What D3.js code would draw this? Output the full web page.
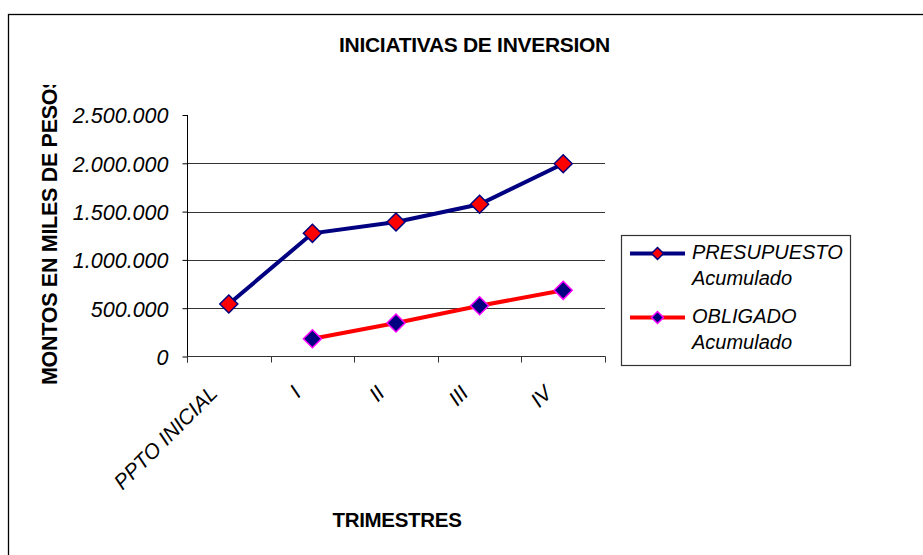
<!DOCTYPE html>
<html><head><meta charset="utf-8">
<script src="https://cdn.jsdelivr.net/npm/d3@7"></script>
<style>
html,body{margin:0;padding:0;background:#fff;}
svg{display:block;font-family:"Liberation Sans",Arial,sans-serif;}
</style></head>
<body>
<svg id="chart" width="923" height="555"></svg>
<script>
const categories = ["PPTO INICIAL", "I", "II", "III", "IV"];
const presupuesto = [543000, 1275000, 1392000, 1576000, 1995000];
const obligado = [null, 184000, 347000, 526000, 685000];
const yTicks = [0, 500000, 1000000, 1500000, 2000000, 2500000];
const seriesNames = [["PRESUPUESTO", "Acumulado"], ["OBLIGADO", "Acumulado"]];

(function () {
const svg = d3.select("#chart");
const navy = "#000080", red = "#FF0000", magenta = "#FF00FF";

// outer frame
svg.append("rect").attr("x", 8.5).attr("y", 14.5).attr("width", 940).attr("height", 600)
  .attr("fill", "none").attr("stroke", "#000").attr("stroke-width", 1.3);

const pLeft = 187, pRight = 605, pTop = 115, pBottom = 356.5;
const x = d3.scaleBand().domain(categories).range([pLeft, pRight]).padding(0);
const y = d3.scaleLinear().domain([0, 2500000]).range([pBottom, pTop]);
const cx = d => x(d) + x.bandwidth() / 2;

// title
svg.append("text").attr("x", 474.5).attr("y", 52).attr("text-anchor", "middle")
  .style("font-weight", "bold").style("font-size", "21px").style("letter-spacing", "-0.3px")
  .text("INICIATIVAS DE INVERSION");

// gridlines
svg.append("g").selectAll("line").data(yTicks.filter(d => d > 0 && d < 2500000)).join("line")
  .attr("x1", pLeft).attr("x2", pRight).attr("y1", d => Math.round(y(d)) + 0.5).attr("y2", d => Math.round(y(d)) + 0.5)
  .attr("stroke", "#333").attr("stroke-width", 1);

// y axis
const fmt = d => d3.format(",")(d).replace(/,/g, ".");
const yAxis = svg.append("g").attr("transform", `translate(${pLeft + 0.5},0)`)
  .call(d3.axisLeft(y).tickValues(yTicks).tickFormat(fmt).tickSize(5).tickPadding(14));
yAxis.select(".domain").attr("d", `M0,${pTop}V${pBottom + 6}`).attr("stroke", "#000");
yAxis.selectAll(".tick line").attr("stroke", "#000");
yAxis.selectAll("text").style("font-size", "21.5px").style("font-style", "italic")
  .attr("fill", "#000").attr("dy", "0.37em");

// x axis
const xg = svg.append("g");
xg.append("line").attr("x1", pLeft).attr("x2", pRight + 0.5).attr("y1", pBottom).attr("y2", pBottom)
  .attr("stroke", "#333").attr("stroke-width", 1.2);
const edges = categories.map(c => x(c)).concat([x(categories[categories.length - 1]) + x.bandwidth()]);
xg.selectAll("line.t").data(edges).join("line").attr("class", "t")
  .attr("x1", d => Math.round(d) + 0.5).attr("x2", d => Math.round(d) + 0.5)
  .attr("y1", pBottom).attr("y2", pBottom + 6).attr("stroke", "#333");
xg.selectAll("text").data(categories).join("text")
  .attr("transform", d => `translate(${cx(d) - 10},${pBottom + 38}) rotate(-45)`)
  .attr("text-anchor", "end").style("font-size", "21px").style("font-style", "italic")
  .text(d => d);

// axis titles
svg.append("text").attr("x", 397).attr("y", 527).attr("text-anchor", "middle")
  .style("font-weight", "bold").style("font-size", "20.5px").style("letter-spacing", "-0.3px").text("TRIMESTRES");

svg.append("clipPath").attr("id", "yclip").append("rect").attr("x", 0).attr("y", 85).attr("width", 120).attr("height", 400);
svg.append("g").attr("clip-path", "url(#yclip)").append("text")
  .attr("transform", "translate(57,385) rotate(-90)")
  .style("font-weight", "bold").style("font-size", "21.5px").style("letter-spacing", "-0.3px")
  .text("MONTOS EN MILES DE PESOS");

function diamondPath(r) { return `M0,${-r}L${r},0L0,${r}L${-r},0Z`; }

const line = d3.line().defined(d => d[1] != null).x(d => cx(d[0])).y(d => y(d[1]));
const s1 = categories.map((c, i) => [c, presupuesto[i]]);
const s2 = categories.map((c, i) => [c, obligado[i]]);

svg.append("path").datum(s1).attr("d", line).attr("fill", "none").attr("stroke", navy).attr("stroke-width", 4);
svg.append("path").datum(s2).attr("d", line).attr("fill", "none").attr("stroke", red).attr("stroke-width", 4);

svg.append("g").selectAll("path").data(s1).join("path")
  .attr("transform", d => `translate(${cx(d[0])},${y(d[1])})`).attr("d", diamondPath(9))
  .attr("fill", red).attr("stroke", navy).attr("stroke-width", 1.5);
svg.append("g").selectAll("path").data(s2.filter(d => d[1] != null)).join("path")
  .attr("transform", d => `translate(${cx(d[0])},${y(d[1])})`).attr("d", diamondPath(9))
  .attr("fill", navy).attr("stroke", magenta).attr("stroke-width", 1.5);

// legend
const lg = svg.append("g");
lg.append("rect").attr("x", 621.5).attr("y", 235.5).attr("width", 229).attr("height", 130)
  .attr("fill", "#fff").attr("stroke", "#333").attr("stroke-width", 1.2);
const legendRows = [
  {name: seriesNames[0], stroke: navy, fill: red, mstroke: navy, ly: 253.5, ty: 259},
  {name: seriesNames[1], stroke: red, fill: navy, mstroke: magenta, ly: 317.5, ty: 323}
];
legendRows.forEach(r => {
  lg.append("line").attr("x1", 630).attr("x2", 685).attr("y1", r.ly).attr("y2", r.ly)
    .attr("stroke", r.stroke).attr("stroke-width", 4);
  lg.append("path").attr("transform", `translate(657.5,${r.ly})`).attr("d", diamondPath(6))
    .attr("fill", r.fill).attr("stroke", r.mstroke).attr("stroke-width", 1.5);
  lg.append("text").attr("x", 692).attr("y", r.ty).style("font-size", "20px").style("font-style", "italic").text(r.name[0]);
  lg.append("text").attr("x", 692).attr("y", r.ty + 26).style("font-size", "20px").style("font-style", "italic").text(r.name[1]);
});
})();
</script>
</body></html>
